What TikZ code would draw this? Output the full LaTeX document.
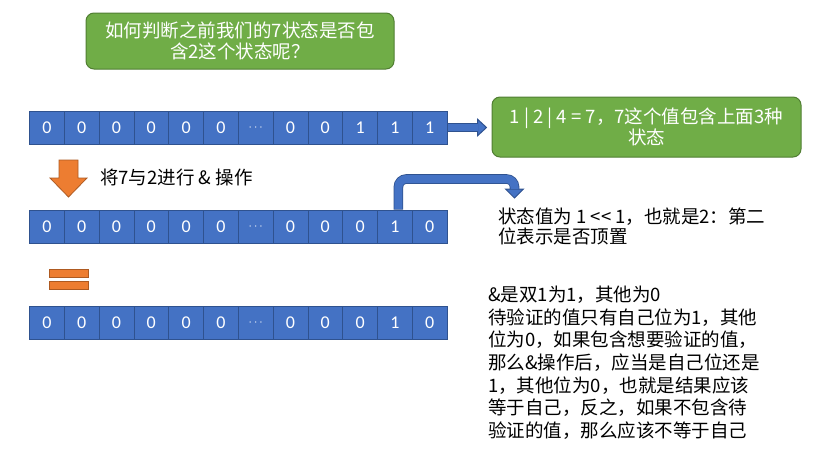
\documentclass[tikz,border=0pt]{standalone}
\usepackage{fontspec}
\setmainfont{Noto Sans CJK SC}
\newfontfamily\cellfont{Carlito}
\usetikzlibrary{calc}
\definecolor{blueF}{HTML}{4472C4}
\definecolor{blueD}{HTML}{2F528F}
\definecolor{greenF}{HTML}{70AD47}
\definecolor{greenD}{HTML}{507E32}
\definecolor{orangeF}{HTML}{ED7D31}
\definecolor{orangeD}{HTML}{AE5A21}
\newcommand\celldots{{\fontsize{13}{13}\selectfont$\cdots$}}
\begin{document}
\begin{tikzpicture}[x=1pt,y=-1pt,
  cell/.style={draw=blueD, fill=blueF, line width=0.8pt, minimum width=34.8pt, minimum height=33pt, inner sep=0pt, text=white, font=\cellfont\fontsize{18}{18}\selectfont},
  greenbox/.style={draw=greenD, fill=greenF, line width=1pt, rounded corners=8pt, text=white, align=center, inner sep=0pt},
  txt/.style={inner sep=0pt, align=left, font=\fontsize{18.5}{22.7}\selectfont},
  orangeshape/.style={fill=orangeF, draw=orangeD, line width=0.8pt},
]
\useasboundingbox (0,0) rectangle (818,456);
% rows of cells
\foreach \v [count=\i] in {0,0,0,0,0,0,\celldots,0,0,1,1,1}
  \node[cell] (a\i) at ({29.5+34.8*(\i-0.5)},127.5) {\v};
\foreach \v [count=\i] in {0,0,0,0,0,0,\celldots,0,0,0,1,0}
  \node[cell] (b\i) at ({29.5+34.8*(\i-0.5)},226.5) {\v};
\foreach \v [count=\i] in {0,0,0,0,0,0,\celldots,0,0,0,1,0}
  \node[cell] (c\i) at ({29.5+34.8*(\i-0.5)},323) {\v};
% green boxes
\node[greenbox, minimum width=308pt, minimum height=56pt, font=\fontsize{18.5}{21}\selectfont] (q) at (240,41) {如何判断之前我们的7状态是否包\\含2这个状态呢？};
\node[greenbox, minimum width=309pt, minimum height=60pt, font=\fontsize{18.5}{20.5}\selectfont] (g2) at (646.5,127) {1 | 2 | 4 = 7，7这个值包含上面3种\\状态};
% right arrow
\coordinate (hb1) at ($(g2.west |- a12.east)+(-14,0)$);
\coordinate (tip1) at ($(g2.west |- a12.east)+(-5,0)$);
\draw[line width=8.8pt, blueD] (a12.east) -- (hb1);
\filldraw[fill=blueF, draw=blueD, line width=1pt] ($(hb1)+(0,-8.3)$) -- (tip1) -- ($(hb1)+(0,8.3)$) -- cycle;
\draw[line width=7pt, blueF] ($(a12.east)+(0.5,0)$) -- (hb1);
% bent arrow
\coordinate (bs) at ($(b11.north)+(3.5,0)$);
\coordinate (tip2) at (514.5,198);
\coordinate (hb2) at ($(tip2)+(0,-9)$);
\coordinate (hc) at (514.5,179);
\draw[line width=9.6pt, blueD, rounded corners=8pt] (bs) -- (bs |- hc) -- (hc) -- (hb2);
\filldraw[fill=blueF, draw=blueD, line width=1pt] ($(hb2)+(-9,0)$) -- (tip2) -- ($(hb2)+(9,0)$) -- cycle;
\draw[line width=8pt, blueF, rounded corners=8pt] ($(bs)+(0,-0.5)$) -- (bs |- hc) -- (hc) -- (hb2);
% orange arrow and equal sign
\filldraw[orangeshape] (59,160) -- (78,160) -- (78,178) -- (87,178) -- (68.5,197) -- (50,178) -- (59,178) -- cycle;
\filldraw[orangeshape] (49,269) rectangle (88,277);
\filldraw[orangeshape] (49,281) rectangle (88,289);
% texts
\node[txt, anchor=west] (op) at (100,177) {将7与2进行 \& 操作};
\node[txt, anchor=north west, font=\fontsize{18.5}{20}\selectfont] (s1) at (498,207.5) {状态值为 1 <{}< 1，也就是2：第二\\位表示是否顶置};
\node[txt, anchor=north west] (s2) at (488,285.7) {\&是双1为1，其他为0\\待验证的值只有自己位为1，其他\\位为0，如果包含想要验证的值，\\那么\&操作后，应当是自己位还是\\1，其他位为0，也就是结果应该\\等于自己，反之，如果不包含待\\验证的值，那么应该不等于自己};
\end{tikzpicture}
\end{document}
